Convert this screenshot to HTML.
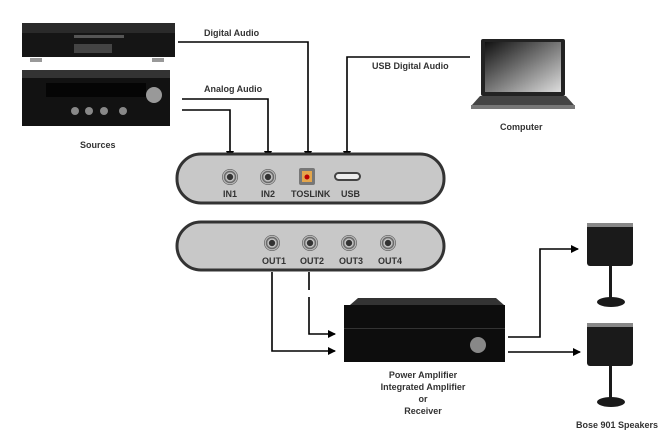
<!DOCTYPE html>
<html><head><style>
html,body{margin:0;padding:0;background:#fff;}
svg{display:block;font-family:"Liberation Sans",sans-serif;}
text{font-size:9px;font-weight:bold;fill:#333;}
</style></head><body>
<svg width="661" height="432" viewBox="0 0 661 432" xmlns="http://www.w3.org/2000/svg">
<defs>
<marker id="a" markerWidth="8" markerHeight="8" refX="7" refY="4" orient="auto" markerUnits="userSpaceOnUse">
<path d="M0,0 L8,4 L0,8 z" fill="#000"/></marker>
<linearGradient id="scr" x1="0" y1="0" x2="1" y2="1"><stop offset="0" stop-color="#111"/><stop offset="1" stop-color="#ddd"/></linearGradient>
<radialGradient id="jk"><stop offset="0.35" stop-color="#333"/><stop offset="0.45" stop-color="#ddd"/><stop offset="0.7" stop-color="#555"/><stop offset="0.85" stop-color="#ccc"/><stop offset="1" stop-color="#444"/></radialGradient>
</defs>
<!-- CD player -->
<rect x="22" y="23" width="153" height="10" fill="#2a2a2a"/>
<rect x="22" y="33" width="153" height="24" fill="#151515"/>
<rect x="74" y="35" width="50" height="3" fill="#555"/>
<rect x="74" y="44" width="38" height="9" fill="#444"/>
<rect x="30" y="58" width="12" height="4" fill="#999"/><rect x="152" y="58" width="12" height="4" fill="#999"/>
<!-- stereo amp -->
<rect x="22" y="70" width="148" height="8" fill="#333"/>
<rect x="22" y="78" width="148" height="48" fill="#121212"/>
<rect x="46" y="83" width="100" height="14" fill="#050505"/>
<circle cx="154" cy="95" r="8" fill="#999"/>
<circle cx="75" cy="111" r="4" fill="#888"/><circle cx="89" cy="111" r="4" fill="#888"/><circle cx="104" cy="111" r="4" fill="#888"/><circle cx="123" cy="111" r="4" fill="#888"/>
<text x="80" y="148">Sources</text>
<!-- lines -->
<g stroke="#000" stroke-width="1.6" fill="none">
<path d="M178 42 H308 V158" marker-end="url(#a)"/>
<path d="M182 99 H268 V158" marker-end="url(#a)"/>
<path d="M182 110 H230 V158" marker-end="url(#a)"/>
<path d="M470 57 H347 V158" marker-end="url(#a)"/>
<path d="M272 272 V351 H335" marker-end="url(#a)"/>
<path d="M309 272 V290 M309 297 V334 H335" marker-end="url(#a)"/>
<path d="M508 337 H540 V249 H578" marker-end="url(#a)"/>
<path d="M508 352 H580" marker-end="url(#a)"/>
</g>
<text x="204" y="36">Digital Audio</text>
<text x="204" y="92">Analog Audio</text>
<text x="372" y="69">USB Digital Audio</text>
<!-- laptop -->
<rect x="481" y="39" width="84" height="57" rx="2" fill="#222"/>
<rect x="485" y="42" width="76" height="50" fill="url(#scr)"/>
<path d="M472 105 L480 96 H566 L574 105 Z" fill="#444"/>
<rect x="471" y="105" width="104" height="4" fill="#777"/>
<text x="500" y="130">Computer</text>
<!-- top box -->
<rect x="177" y="154" width="267" height="49" rx="24" fill="#c8c8c8" stroke="#333" stroke-width="3"/>
<circle cx="230" cy="177" r="8" fill="url(#jk)"/>
<circle cx="268" cy="177" r="8" fill="url(#jk)"/>
<rect x="299" y="168" width="16" height="17" rx="2" fill="#777"/><rect x="302" y="171" width="10" height="11" fill="#e4a64c"/><circle cx="307" cy="177" r="2.5" fill="#b00"/>
<rect x="335" y="173" width="25" height="7" rx="3.5" fill="#eee" stroke="#444" stroke-width="2"/>
<g style="font-size:8px"><text x="223" y="197">IN1</text><text x="261" y="197">IN2</text><text x="291" y="197">TOSLINK</text><text x="341" y="197">USB</text></g>
<!-- bottom box -->
<rect x="177" y="222" width="267" height="48" rx="24" fill="#c8c8c8" stroke="#333" stroke-width="3"/>
<circle cx="272" cy="243" r="8" fill="url(#jk)"/><circle cx="310" cy="243" r="8" fill="url(#jk)"/><circle cx="349" cy="243" r="8" fill="url(#jk)"/><circle cx="388" cy="243" r="8" fill="url(#jk)"/>
<g style="font-size:8px"><text x="262" y="264">OUT1</text><text x="300" y="264">OUT2</text><text x="339" y="264">OUT3</text><text x="378" y="264">OUT4</text></g>
<!-- power amp -->
<path d="M350 305 L358 298 H496 L504 305 Z" fill="#333"/>
<rect x="344" y="305" width="161" height="57" fill="#0d0d0d"/>
<rect x="344" y="328" width="161" height="1" fill="#333"/>
<circle cx="478" cy="345" r="8" fill="#888"/>
<g text-anchor="middle"><text x="423" y="378">Power Amplifier</text><text x="423" y="390">Integrated Amplifier</text><text x="423" y="402">or</text><text x="423" y="414">Receiver</text></g>
<!-- speakers -->
<g fill="#1a1a1a">
<rect x="587" y="223" width="46" height="43" rx="3"/><rect x="609" y="266" width="3" height="32"/><ellipse cx="611" cy="302" rx="14" ry="5"/>
<rect x="587" y="323" width="46" height="43" rx="3"/><rect x="609" y="366" width="3" height="32"/><ellipse cx="611" cy="402" rx="14" ry="5"/>
</g>
<rect x="587" y="223" width="46" height="4" fill="#888"/><rect x="587" y="323" width="46" height="4" fill="#888"/>
<text x="576" y="428">Bose 901 Speakers</text>
</svg>
</body></html>
